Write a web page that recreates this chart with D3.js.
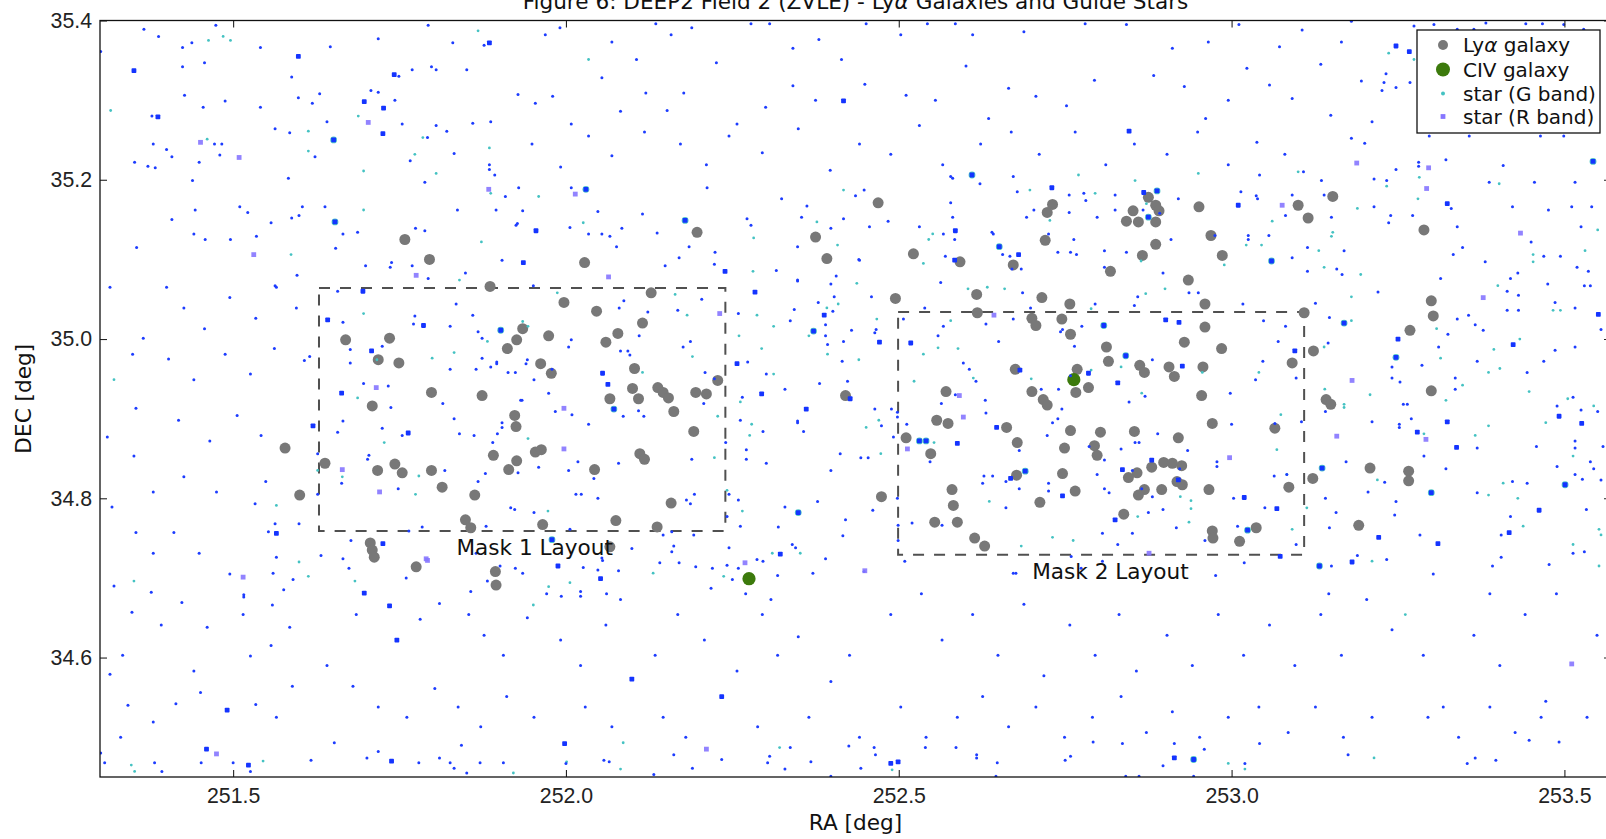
<!DOCTYPE html>
<html>
<head>
<meta charset="utf-8">
<script src="https://cdn.jsdelivr.net/npm/d3@7"></script>
<style>
  body { margin: 0; background: #fff; }
  svg { display: block; font-family: "DejaVu Sans", sans-serif; }
  .axis text { font-size: 21.3px; fill: #222; }
  .axis line { stroke: #222; stroke-width: 1.1; }
</style>
</head>
<body>
<div id="chart"></div>
<script>
// tick values
const xTicks = [251.5, 252.0, 252.5, 253.0, 253.5];
const yTicks = [34.6, 34.8, 35.0, 35.2, 35.4];

// [RA, DEC] of the Ly-alpha galaxies
const lyaGalaxies = [
  [251.578,34.863],[251.600,34.804],[251.638,34.844],[251.669,34.999],[251.735,35.001],[251.718,34.974],[251.749,34.970],[251.709,34.916],[251.798,34.933],[251.874,34.929],
  [251.717,34.835],[251.743,34.843],[251.754,34.832],[251.798,34.835],[251.814,34.814],[251.863,34.804],[251.849,34.773],[251.857,34.763],[251.965,34.767],[252.075,34.772],
  [252.137,34.764],[252.158,34.794],[251.886,35.066],[252.128,35.058],[251.997,35.046],[252.046,35.035],[252.115,35.020],[251.935,35.013],[252.078,35.007],[251.974,35.004],
  [251.926,34.999],[252.060,34.996],[251.912,34.988],[251.962,34.969],[251.978,34.957],[252.103,34.963],[252.100,34.938],[252.109,34.925],[252.066,34.925],[252.138,34.939],
  [252.146,34.933],[252.154,34.926],[252.162,34.909],[252.195,34.933],[252.211,34.931],[252.228,34.948],[252.192,34.884],[251.923,34.904],[251.925,34.890],[251.954,34.858],
  [251.963,34.861],[251.891,34.854],[251.926,34.847],[251.914,34.836],[252.043,34.836],[252.111,34.856],[252.118,34.849],[251.706,34.744],[251.709,34.735],[251.712,34.726],
  [252.066,34.739],[251.775,34.714],[251.894,34.708],[251.895,34.691],[251.758,35.125],[251.795,35.100],[252.028,35.096],[252.197,35.134],[252.375,35.128],[252.392,35.101],
  [252.420,34.929],[252.474,34.802],[252.469,35.171],[252.522,35.107],[252.592,35.097],[252.731,35.169],[252.723,35.159],[252.720,35.124],[252.672,35.093],[252.818,35.085],
  [252.866,35.105],[252.886,35.119],[252.875,35.178],[252.886,35.168],[252.891,35.161],[252.852,35.161],[252.842,35.148],[252.860,35.147],[252.886,35.147],[252.951,35.166],
  [252.969,35.130],[252.986,35.105],[252.935,35.074],[253.100,35.168],[253.115,35.152],[253.152,35.179],[253.289,35.137],[253.300,35.048],[253.303,35.029],[253.268,35.011],
  [253.123,34.985],[253.091,34.970],[253.300,34.935],[253.142,34.924],[253.149,34.918],[253.208,34.838],[253.266,34.834],[253.266,34.822],[253.122,34.825],[253.086,34.814],
  [253.191,34.766],[253.109,35.033],
  [252.495,35.051],[252.617,35.056],[252.715,35.052],[252.757,35.044],[252.618,35.033],[252.960,35.044],[252.700,35.026],[252.706,35.017],[252.745,35.025],[252.758,35.006],
  [252.960,35.015],[252.812,34.990],[252.929,34.996],[252.985,34.988],[252.815,34.972],[252.862,34.967],[252.869,34.958],[252.906,34.965],[252.914,34.953],[252.957,34.965],
  [252.675,34.962],[252.768,34.962],[252.785,34.939],[252.766,34.933],[252.700,34.934],[252.717,34.924],[252.723,34.917],[252.571,34.934],[252.955,34.929],[252.557,34.898],
  [252.574,34.894],[252.662,34.889],[252.511,34.876],[252.548,34.856],[252.678,34.870],[252.758,34.885],[252.803,34.883],[252.854,34.884],[252.971,34.894],[253.065,34.888],
  [252.920,34.876],[252.749,34.863],[252.794,34.866],[252.798,34.854],[252.880,34.839],[252.898,34.845],[252.911,34.844],[252.925,34.841],[252.858,34.832],[252.845,34.826],
  [252.746,34.831],[252.677,34.829],[252.918,34.821],[252.926,34.817],[252.869,34.811],[252.860,34.804],[252.895,34.811],[252.966,34.811],[252.765,34.809],[252.580,34.811],
  [252.582,34.791],[252.712,34.795],[252.838,34.780],[252.554,34.770],[252.588,34.770],[252.614,34.750],[252.629,34.740],[252.971,34.759],[252.972,34.750],[253.037,34.763],
  [253.012,34.746]
];

// [RA, DEC] of the CIV galaxies
const civGalaxies = [[252.763,34.949],[252.275,34.699]];

// guide stars, R band (faint)
const starsR = [
  [251.366,35.389],[251.388,35.380],[251.424,35.366],[251.438,35.372],[251.474,35.394],[251.541,35.366],[251.646,35.367],[251.718,35.377],[251.793,35.394],[251.877,35.369],
  [251.830,35.372],[251.798,35.342],[251.805,35.338],[251.769,35.338],[251.749,35.330],[251.851,35.338],[251.424,35.342],[251.457,35.347],[251.427,35.306],[251.488,35.299],
  [251.455,35.291],[251.541,35.291],[251.588,35.329],[251.598,35.303],[251.619,35.296],[251.630,35.308],[251.707,35.312],[251.718,35.310],[251.743,35.300],[251.754,35.270],
  [251.805,35.268],[251.821,35.261],[251.860,35.271],[251.887,35.273],[251.641,35.273],[251.585,35.259],[251.563,35.264],[251.623,35.229],[251.480,35.231],[251.483,35.245],
  [251.472,35.245],[251.378,35.280],[251.380,35.245],[251.400,35.238],[251.408,35.229],[251.352,35.222],[251.372,35.217],[251.383,35.215],[251.449,35.222],[251.439,35.199],
  [251.583,35.202],[251.766,35.224],[251.792,35.253],[251.832,35.233],[251.788,35.197],[251.885,35.219],[251.885,35.213],[251.893,35.206],[251.301,35.361],[251.510,35.166],
  [251.522,35.159],[251.604,35.166],[251.599,35.155],[251.588,35.152],[251.638,35.166],[251.557,35.146],[251.665,35.132],[251.687,35.134],[251.774,35.139],[251.788,35.136],
  [251.837,35.162],[251.895,35.162],[251.654,35.114],[251.535,35.129],[251.496,35.125],[251.458,35.125],[251.441,35.132],[251.408,35.150],[251.443,35.162],[251.355,35.115],
  [253.180,35.252],[253.200,35.246],[253.281,35.222],[253.281,35.217],[253.322,35.225],[253.408,35.218],[253.108,35.210],[253.135,35.199],[253.214,35.201],[253.233,35.199],
  [253.247,35.213],[253.387,35.197],[253.455,35.197],[253.516,35.197],[253.091,35.181],[253.139,35.181],[253.330,35.164],[253.214,35.166],[253.272,35.155],[253.236,35.146],
  [253.239,35.155],[253.150,35.153],[253.422,35.166],[253.476,35.162],[253.511,35.166],[253.541,35.166],[253.339,35.141],[253.450,35.122],[253.525,35.141],[253.114,35.115],
  [253.169,35.111],[253.091,35.102],[253.347,35.115],[253.333,35.106],[253.381,35.097],[253.469,35.104],[253.494,35.104],[253.519,35.090],[253.536,35.085],[253.114,35.085],
  [253.158,35.088],[253.166,35.081],[253.314,35.076],[253.419,35.076],[253.430,35.083],[253.475,35.069],[253.530,35.067],[253.539,35.067],[253.414,35.060],[253.431,35.055],
  [253.220,35.059],[253.126,35.045],[253.486,35.046],[253.516,35.039],[253.414,35.036],[253.431,35.036],[253.356,35.030],[253.339,35.025],[253.366,35.018],[253.378,35.011],
  [253.555,35.012],[253.147,35.027],[253.325,35.006],[253.311,34.990],[253.486,34.986],[253.516,34.990],[253.241,34.965],[253.286,34.967],[253.369,34.972],[253.444,34.958],
  [253.469,34.972],[253.097,34.951],[253.241,34.951],[253.253,34.946],[253.336,34.951],[253.336,34.937],[253.513,34.927],[253.258,34.918],[253.264,34.918],[253.489,34.916],
  [253.525,34.911],[253.550,34.909],[253.141,34.909],[253.270,34.900],[253.105,34.896],[253.211,34.896],[253.252,34.893],[253.252,34.889],[253.516,34.872],[253.516,34.863],
  [253.369,34.863],[253.458,34.865],[253.558,34.865],[253.289,34.853],[253.172,34.846],[253.539,34.846],[253.322,34.837],[253.489,34.840],[253.544,34.837],[253.516,34.830],
  [253.527,34.824],[253.555,34.823],[253.230,34.820],[253.422,34.821],[253.444,34.819],[253.205,34.808],[253.369,34.807],[253.141,34.800],[253.247,34.796],[253.157,34.782],
  [253.245,34.779],[253.419,34.777],[253.533,34.786],[253.147,34.763],[253.283,34.754],[253.405,34.754],[253.097,34.742],[253.513,34.731],[253.530,34.733],[253.189,34.728],
  [253.405,34.726],[253.150,34.715],[253.233,34.723],[253.392,34.715],[253.477,34.717],[253.145,34.995],
  [251.699,35.092],[251.736,35.090],[251.738,35.096],[251.769,35.092],[251.793,35.076],[251.849,35.083],[252.149,35.092],[252.223,35.094],[251.951,35.067],[251.657,35.060],
  [251.835,35.044],[251.860,35.030],[251.773,35.029],[251.771,35.019],[251.665,35.021],[251.826,35.016],[251.868,35.009],[251.874,35.001],[252.008,34.999],[252.004,34.990],
  [252.087,35.048],[252.080,35.039],[252.123,35.034],[252.168,35.036],[252.204,35.050],[252.259,35.032],[252.110,35.004],[252.176,34.990],[252.187,34.997],[252.082,34.985],
  [252.093,34.985],[252.096,34.980],[251.724,34.991],[251.676,34.987],[251.615,34.978],[251.607,34.973],[251.676,34.970],[251.826,34.962],[251.865,34.962],[251.874,34.976],
  [251.887,34.965],[251.896,34.971],[251.896,34.969],[251.913,34.958],[251.924,34.958],[251.942,34.974],[251.940,34.969],[251.979,34.962],[251.952,34.949],[251.934,34.923],
  [251.974,34.932],[252.209,34.958],[252.223,34.950],[252.273,34.971],[251.696,34.944],[251.733,34.941],[251.737,34.914],[251.815,34.919],[251.832,34.900],[251.665,34.897],
  [251.657,34.883],[251.724,34.888],[251.754,34.879],[251.840,34.881],[251.862,34.879],[251.897,34.881],[251.904,34.895],[251.904,34.889],[251.890,34.870],[251.932,34.923],
  [251.984,34.909],[252.009,34.905],[252.034,34.893],[252.086,34.903],[252.109,34.910],[252.117,34.903],[252.207,34.919],[252.240,34.870],[252.262,34.898],[252.265,34.927],
  [252.018,34.846],[252.004,34.835],[251.959,34.839],[251.928,34.832],[251.879,34.831],[251.868,34.821],[252.079,34.844],[252.189,34.849],[252.271,34.861],[252.271,34.849],
  [252.042,34.825],[251.627,34.856],[251.663,34.819],[251.704,34.854],[251.702,34.849],[251.748,34.812],[251.818,34.835],[251.627,34.805],[251.917,34.788],[251.923,34.786],
  [251.952,34.782],[252.015,34.805],[252.023,34.805],[252.048,34.800],[252.187,34.793],[252.193,34.805],[252.181,34.798],[252.245,34.805],[252.259,34.798],[252.242,34.777],
  [252.262,34.765],[252.192,34.754],[252.159,34.758],[252.146,34.754],[252.006,34.761],[251.880,34.765],[251.784,34.764],[251.764,34.759],[251.677,34.747],[251.665,34.724],
  [251.632,34.728],[251.865,34.731],[252.054,34.725],[252.099,34.737],[252.162,34.740],[252.159,34.733],[252.245,34.738],
  [252.459,35.053],[252.563,35.071],[252.686,35.058],[252.698,35.039],[252.539,35.039],[252.672,35.025],[252.631,35.019],[252.507,35.025],[252.567,35.016],[252.466,35.012],
  [252.464,35.008],[252.559,35.004],[252.650,34.997],[252.746,35.012],[252.743,35.009],[252.764,34.991],[252.775,35.016],[252.795,35.044],[252.854,35.042],[252.859,35.053],
  [252.936,35.058],[252.950,35.058],[253.017,35.044],[253.048,35.023],[253.081,35.016],[253.070,34.997],[253.036,34.949],[253.047,34.972],[252.998,34.932],[252.881,34.974],
  [252.870,34.928],[252.846,34.921],[252.758,34.954],[252.740,34.937],[252.714,34.937],[252.597,34.970],[252.606,34.962],[252.616,34.947],[252.585,34.930],[252.630,34.923],
  [252.631,34.907],[252.564,34.919],[252.464,34.912],[252.489,34.912],[252.498,34.908],[252.498,34.902],[252.474,34.891],[252.512,34.893],[252.492,34.877],[252.547,34.846],
  [252.443,34.851],[252.454,34.851],[252.731,34.895],[252.739,34.900],[252.745,34.912],[252.723,34.879],[252.681,34.860],[252.786,34.865],[252.809,34.848],[252.834,34.862],
  [252.855,34.870],[252.861,34.870],[252.889,34.881],[252.934,34.860],[252.978,34.846],[252.978,34.840],[253.000,34.893],[253.065,34.894],[253.083,34.830],[253.064,34.828],
  [252.628,34.828],[252.641,34.828],[252.626,34.819],[252.661,34.821],[252.681,34.812],[252.725,34.819],[252.725,34.809],[252.798,34.830],[252.809,34.812],[252.816,34.807],
  [252.851,34.835],[252.865,34.812],[252.881,34.802],[252.922,34.837],[253.003,34.800],[253.050,34.788],[252.461,34.785],[252.498,34.800],[252.520,34.769],[252.565,34.766],
  [252.499,34.766],[252.499,34.747],[252.661,34.788],[252.875,34.782],[252.897,34.786],[252.917,34.763],[252.851,34.756],[252.806,34.756],[252.829,34.742],[253.009,34.765],
  [252.960,34.747],[252.759,34.727],[252.509,34.721],[252.448,34.708],[252.672,34.706],[252.676,34.706],[252.774,34.712],[252.806,34.721],[253.019,34.719],[252.976,34.703],
  [252.448,35.187],[252.578,35.204],[252.581,35.202],[252.622,35.195],[252.672,35.204],[252.678,35.185],[252.756,35.181],[252.778,35.183],[252.781,35.174],[252.825,35.181],
  [252.825,35.162],[252.920,35.176],[253.014,35.185],[253.037,35.180],[253.039,35.176],[253.042,35.206],[253.081,35.155],[252.484,35.148],[252.456,35.141],[252.531,35.141],
  [252.567,35.132],[252.578,35.171],[252.581,35.153],[252.584,35.125],[252.640,35.134],[252.642,35.132],[252.692,35.153],[252.703,35.162],[252.725,35.132],[252.756,35.159],
  [252.798,35.153],[252.763,35.125],[252.739,35.109],[252.758,35.109],[252.767,35.106],[252.809,35.111],[252.842,35.109],[252.867,35.162],[252.892,35.158],[252.909,35.125],
  [252.975,35.130],[253.025,35.130],[253.025,35.125],[253.056,35.130],[252.656,35.106],[252.667,35.104],[252.684,35.088],[252.670,35.088],[252.570,35.104],[252.441,35.099],
  [252.809,35.090],[252.897,35.083],
  [252.348,35.073],[252.398,35.069],[252.403,35.053],[252.379,35.046],[252.401,35.035],[252.343,35.037],[252.337,35.023],[252.390,35.018],[252.390,35.004],[252.429,35.011],
  [252.417,34.997],[252.393,34.993],[252.415,34.972],[252.301,34.956],[252.329,34.937],[252.381,34.944],[252.423,34.947],[252.348,34.897],[252.348,34.895],[252.296,34.884],
  [252.357,34.884],[252.301,34.844],[252.412,34.856],[252.398,34.835],[252.378,34.796],[252.329,34.789],[252.420,34.773],
  [251.500,34.468],[251.526,34.457],[251.617,34.471],[251.701,34.474],[251.718,34.482],[251.779,34.468],[251.810,34.474],[251.826,34.468],[251.832,34.461],[251.851,34.455],
  [251.871,34.468],[251.906,34.468],[252.000,34.467],[252.057,34.471],[252.065,34.469],[252.132,34.453],[252.162,34.478],[252.190,34.461],[252.234,34.472],[252.303,34.468],
  [252.306,34.476],[252.329,34.460],[252.337,34.487],[251.393,34.457],[251.382,34.468],[251.307,34.468],[251.301,34.480],[251.452,34.468],[251.843,34.490],[251.652,34.493],
  [252.368,34.469],[252.425,34.489],[252.443,34.461],[252.463,34.487],[252.465,34.478],[252.540,34.487],[252.586,34.487],[252.617,34.478],[252.617,34.474],[252.648,34.468],
  [252.750,34.471],[252.758,34.476],[252.792,34.494],[252.836,34.492],[252.897,34.464],[252.914,34.492],[252.959,34.485],[253.020,34.467],[253.042,34.492],[253.175,34.478],
  [253.354,34.467],[253.366,34.474],[253.397,34.471],[253.447,34.496],[253.492,34.494],[252.841,34.451],[252.861,34.451],[252.943,34.451],[252.646,34.451],[252.398,34.451],
  [253.232,35.333],[253.229,35.322],[253.247,35.316],[253.268,35.322],[253.226,35.312],[253.274,35.393],[253.304,35.395],[253.339,35.389],[253.364,35.389],[253.382,35.397],
  [253.442,35.396],[253.467,35.396],[253.499,35.395],[253.529,35.389],[253.297,35.255],[253.357,35.255],[253.464,35.255],[253.499,35.255],
  [251.929,35.190],[252.008,35.190],[252.048,35.160],[252.115,35.157],[252.212,35.190],[252.324,35.176],[252.362,35.167],[252.435,35.180],[251.909,35.179],[251.935,35.161],
  [251.925,35.143],[251.927,35.145],[252.006,35.140],[252.034,35.132],[252.054,35.132],[252.066,35.129],[252.084,35.139],[252.137,35.133],[252.076,35.116],[252.185,35.116],
  [252.224,35.109],[252.170,35.102],[252.316,35.086],[252.272,35.151],[252.278,35.143],[252.354,35.153],[252.398,35.139],[252.417,35.151],[252.348,35.116],[252.440,35.100],
  [252.406,35.079],[252.348,35.074],[251.904,35.099],[251.596,35.080],[251.563,35.067],
  [252.319,34.764],[252.416,34.753],[252.340,34.742],[252.345,34.738],[252.390,34.724],[252.371,34.706],[252.318,34.703],[252.308,34.673],[252.270,34.680],[252.287,34.723],
  [252.296,34.721],[252.259,34.712],[252.250,34.698],[252.242,34.716],[252.220,34.712],[252.218,34.687],[252.195,34.714],[252.170,34.719],[252.141,34.719],[252.079,34.709],
  [252.048,34.710],[252.055,34.722],[252.026,34.713],[252.022,34.683],[252.022,34.677],[251.993,34.677],[251.971,34.680],[252.061,34.680],[252.082,34.673],[251.935,34.706],
  [251.924,34.712],[251.901,34.715],[251.882,34.696],[251.857,34.683],[251.810,34.668],[251.760,34.700],[251.674,34.712],[251.590,34.698],[251.576,34.685],[251.560,34.706],
  [251.565,34.726],[251.553,34.758],[251.563,34.768],[251.599,34.768],[251.516,34.679],[251.516,34.676],[251.559,34.666],[251.533,34.793],
  [251.969,35.382],[251.991,35.391],[252.069,35.373],[252.106,35.351],[252.135,35.396],[252.158,35.382],[252.189,35.391],[252.278,35.396],[252.306,35.396],[252.341,35.365],
  [252.380,35.376],[252.414,35.351],[252.451,35.396],[252.503,35.382],[252.543,35.396],[252.585,35.396],[252.611,35.382],[252.688,35.386],[252.780,35.396],[252.842,35.395],
  [252.911,35.365],[252.965,35.373],[253.011,35.395],[251.928,35.307],[251.954,35.296],[251.980,35.305],[252.008,35.270],[252.054,35.328],[252.082,35.286],[252.120,35.309],
  [252.152,35.287],[252.177,35.309],[252.226,35.347],[252.257,35.270],[252.300,35.291],[252.341,35.318],[252.375,35.300],[252.449,35.320],[252.511,35.306],[252.555,35.300],
  [252.601,35.343],[252.635,35.277],[252.665,35.315],[252.706,35.305],[252.752,35.293],[252.794,35.325],[252.883,35.331],[252.929,35.317],[252.961,35.277],[252.995,35.300],
  [253.023,35.340],[253.057,35.319],[251.949,35.245],[251.992,35.216],[252.034,35.255],[252.069,35.230],[252.118,35.260],[252.172,35.245],[252.211,35.219],[252.245,35.255],
  [252.295,35.234],[252.349,35.264],[252.397,35.212],[252.441,35.245],[252.488,35.232],[252.531,35.268],[252.566,35.219],[252.623,35.245],[252.669,35.260],[252.711,35.232],
  [252.765,35.260],[252.811,35.219],[252.854,35.245],[252.903,35.232],[252.949,35.260],[252.995,35.219],[253.038,35.247],[253.080,35.232],
  [253.072,35.367],[253.106,35.388],[253.134,35.345],[253.165,35.373],[253.195,35.324],[253.091,35.302],[253.149,35.281],[253.211,35.273],[253.180,35.399],
  [251.315,35.065],[251.349,34.981],[251.365,35.001],[251.354,34.913],[251.311,34.877],[251.351,34.853],[251.380,34.808],[251.318,34.789],[251.354,34.757],[251.380,34.731],
  [251.400,35.065],[251.426,35.039],[251.457,35.013],[251.495,35.052],[251.534,35.026],[251.565,35.065],[251.403,34.975],[251.441,34.949],[251.488,34.981],[251.526,34.956],
  [251.562,34.988],[251.418,34.898],[251.465,34.872],[251.506,34.904],[251.542,34.879],[251.426,34.827],[251.475,34.808],[251.549,34.821],[251.411,34.757],[251.449,34.731],
  [251.495,34.705],[251.595,35.039],
  [251.321,34.690],[251.348,34.657],[251.377,34.682],[251.392,34.641],[251.423,34.669],[251.461,34.638],[251.515,34.654],[251.526,34.602],[251.557,34.615],[251.585,34.638],
  [251.334,34.603],[251.315,34.579],[251.342,34.540],[251.380,34.519],[251.414,34.542],[251.441,34.583],[251.451,34.556],[251.534,34.541],[251.565,34.525],[251.589,34.564],
  [251.331,34.500],
  [251.685,34.654],[251.781,34.648],[251.854,34.654],[251.877,34.628],[251.906,34.603],[251.942,34.650],[251.992,34.622],[252.022,34.590],[252.060,34.641],[252.134,34.603],
  [252.168,34.654],[252.208,34.622],[252.257,34.583],[252.295,34.654],[252.318,34.603],[252.349,34.626],[252.398,34.570],[252.426,34.603],[251.641,34.590],[251.680,34.564],
  [251.718,34.538],[251.761,34.525],[251.803,34.561],[251.838,34.538],[251.872,34.513],[251.911,34.551],[251.952,34.525],[252.029,34.538],[252.069,34.513],[252.146,34.525],
  [252.180,34.500],[252.288,34.513],[252.365,34.525],[252.441,34.500],
  [252.488,34.654],[252.534,34.680],[252.565,34.622],[252.611,34.654],[252.649,34.603],[252.688,34.667],[252.718,34.577],[252.757,34.641],[252.795,34.603],[252.831,34.654],
  [252.857,34.583],[252.903,34.628],[252.941,34.590],[252.980,34.654],[253.018,34.603],[253.057,34.641],[253.095,34.590],[253.134,34.654],[253.165,34.603],[253.203,34.673],
  [253.241,34.635],[253.288,34.603],[253.318,34.538],[253.364,34.628],[253.403,34.590],[253.441,34.654],[253.472,34.545],[253.534,34.525],[252.503,34.538],[252.541,34.500],
  [252.588,34.525],[252.626,34.551],[252.665,34.513],[252.706,34.538],[252.749,34.500],[252.791,34.525],[252.834,34.551],[252.872,34.506],[252.911,34.532],[252.952,34.500],
  [252.995,34.525],[253.041,34.538],[253.085,34.506],[253.126,34.538],[253.168,34.500],[253.211,34.525],[253.295,34.525],[253.341,34.500],[253.388,34.538],[253.426,34.506],
  [253.465,34.525],[253.549,34.628],[253.488,34.680],[253.388,34.680],[253.303,34.705],[253.146,34.680]
];

// guide stars, R band (bright)
const starsRBright = [
  [251.598,35.355],[251.885,35.372],[251.742,35.332],[251.351,35.337],[251.697,35.298],[251.726,35.290],[251.725,35.258],[251.387,35.279],
  [253.324,35.170],[253.095,34.985],[253.423,34.993],[253.250,35.000],[253.551,35.031],[253.324,34.896],[253.492,34.903],[253.526,34.894],[253.279,34.883],[253.338,34.864],
  [253.462,34.785],[253.221,34.751],[253.417,34.757],[253.310,34.743],[253.181,34.720],
  [251.936,35.096],[252.239,35.085],[251.695,35.060],[251.786,35.017],[251.642,35.024],[251.708,34.985],[252.055,34.957],[252.063,34.943],[252.257,34.969],[251.663,34.932],
  [251.620,34.891],[251.763,34.882],[251.725,34.743],
  [252.518,34.995],[252.471,34.996],[252.926,34.966],[252.921,35.021],[252.901,35.024],[252.829,34.945],[252.785,34.957],[252.682,34.961],[252.647,34.889],[252.588,34.869],
  [252.880,34.848],[252.668,34.825],[252.746,34.803],[252.836,34.836],[252.920,34.823],[253.019,34.801],[253.068,34.787],[252.825,34.773],[253.073,34.727],
  [252.730,35.190],[252.868,35.184],[253.010,35.168],[252.585,35.136],[252.680,35.106],[252.584,35.099],
  [252.284,35.059],[252.388,35.030],[252.294,34.931],[252.427,34.925],[252.361,34.912],
  [251.460,34.485],[251.523,34.465],[251.738,34.470],[251.998,34.492],[252.488,34.467],[252.499,34.469],[252.914,34.474],
  [253.247,35.368],[253.267,35.361],[251.955,35.136],
  [252.322,34.730],[252.052,34.699],[251.988,34.715],[251.735,34.665],[251.697,34.681],[251.565,34.756],
  [252.417,35.299],[252.846,35.261],[251.491,34.534],[251.746,34.622],[252.099,34.573],[252.234,34.551]
];

// bright stars seen in both bands
const starsBoth = [
  [251.651,35.250],[251.653,35.147],
  [253.543,35.223],[253.169,35.020],[253.247,34.977],[253.136,34.838],[253.501,34.817],[253.300,34.807],[253.132,34.715],
  [251.902,35.011],[252.072,34.912],[251.979,34.748],
  [252.808,35.017],[252.841,34.979],[252.531,34.872],[252.541,34.872],[252.690,34.834],[253.024,34.760],
  [252.610,35.206],[252.888,35.186],[252.875,35.153],[253.060,35.098],[252.651,35.116],
  [252.372,35.010],[252.349,34.782],[252.943,34.472],[252.030,35.188],[252.179,35.149]
];

// guide stars, G band
const starsG = [
  [251.485,35.380],[251.463,35.375],[251.496,35.375],[251.868,35.387],[251.688,35.280],[251.613,35.261],[251.613,35.236],[251.461,35.251],[251.696,35.211],[251.773,35.232],
  [251.785,35.253],[251.805,35.208],[251.885,35.240],[251.887,35.183],[251.316,35.287],[251.696,35.162],[251.873,35.122],
  [253.100,35.210],[253.233,35.192],[253.282,35.203],[253.402,35.195],[253.280,35.176],[253.189,35.164],[253.152,35.134],[253.150,35.129],[253.550,35.137],[253.131,35.111],
  [253.453,35.106],[253.453,35.097],[253.531,35.111],[253.139,35.090],[253.194,35.081],[253.400,35.067],[253.180,35.053],[253.483,35.036],[253.494,35.036],[253.180,35.023],
  [253.308,35.013],[253.139,34.990],[253.394,34.987],[253.433,35.000],[253.314,34.976],[253.403,34.963],[253.386,34.958],[253.347,34.942],[253.208,34.930],[253.140,34.937],
  [253.447,34.934],[253.505,34.925],[253.169,34.918],[253.169,34.914],[253.322,34.923],[253.544,34.916],[253.472,34.895],[253.386,34.891],[253.289,34.881],[253.366,34.879],
  [253.513,34.853],[253.219,34.823],[253.408,34.819],[253.386,34.804],[253.430,34.800],[253.113,34.788],[253.091,34.761],[253.438,34.765],[253.552,34.761],[253.555,34.754],
  [253.513,34.742],[253.211,34.721],[253.552,34.715],
  [251.840,35.074],[251.987,35.058],[251.696,35.032],[251.882,34.997],[251.935,35.022],[251.943,35.016],[252.182,35.030],[252.164,35.056],[252.190,34.978],[251.716,34.974],
  [251.799,34.976],[251.832,34.983],[252.115,34.958],[252.260,35.004],[251.687,34.926],[251.727,34.870],[251.943,34.875],[252.228,34.903],[252.262,34.921],[252.223,34.851],
  [251.627,34.835],[251.664,34.827],[251.779,34.828],[251.774,34.805],[251.973,34.784],[252.242,34.810],[252.265,34.784],
  [252.604,35.063],[252.633,35.065],[252.659,35.063],[252.578,35.023],[252.467,35.025],[252.537,34.981],[252.559,34.989],[252.589,34.988],[252.789,35.038],[252.871,35.057],
  [252.900,35.063],[253.041,34.958],[252.956,34.958],[252.834,34.965],[252.865,34.932],[252.789,34.961],[252.699,34.950],[252.612,34.951],[252.523,34.947],[252.470,34.898],
  [252.451,34.889],[252.553,34.870],[252.473,34.856],[253.068,34.861],[253.083,34.830],[252.923,34.802],[252.939,34.797],[252.939,34.787],[253.074,34.905],[252.636,34.796],
  [252.859,34.777],[252.936,34.770],[252.731,34.751],[252.762,34.747],[252.684,34.740],
  [252.697,35.187],[252.770,35.206],[252.795,35.183],[252.855,35.199],[252.872,35.170],[252.950,35.208],[253.061,35.148],[252.551,35.132],[252.545,35.125],[252.727,35.149],
  [253.022,35.118],[253.045,35.118],[252.537,35.095],[252.864,35.098],[252.989,35.093],
  [252.437,35.070],[252.392,35.039],[252.409,35.044],[252.287,35.030],[252.312,35.016],[252.365,35.004],[252.294,34.988],[252.393,34.981],[252.440,34.974],[252.312,34.956],
  [252.279,34.893],[252.276,34.879],
  [251.545,34.470],[251.921,34.455],[252.001,34.469],[252.082,34.460],[252.321,34.487],[251.347,34.465],[251.352,34.457],[252.086,34.493],
  [252.490,34.459],[252.995,34.467],[253.020,34.460],[253.214,34.474],[253.274,35.351],[253.236,35.359],
  [251.959,35.179],[252.026,35.146],[252.281,35.085],[252.282,35.127],[252.377,35.147],[252.408,35.118],[252.417,35.187],[251.587,35.106],
  [252.352,34.731],[252.237,34.702],[252.131,34.706],[252.310,34.731],[252.006,34.694],[251.974,34.689],[251.951,34.666],[251.683,34.696],[251.599,34.720],[251.613,34.702],
  [251.565,34.791],[252.034,35.351],[251.321,34.949],[251.351,34.696],[253.261,34.654]
];

// R band stars drawn with the cross marker
const starsRX = [
  [251.703,35.272],[251.509,35.228],[251.451,35.247],[251.884,35.188],
  [253.188,35.221],[253.296,35.215],[253.293,35.189],[253.434,35.133],[253.378,35.052],[253.181,34.948],[253.158,34.878],[253.292,34.874],
  [251.775,35.080],[252.064,35.078],[252.231,35.032],[251.715,34.939],[251.997,34.913],[251.997,34.862],[251.664,34.836],[251.720,34.808],[251.790,34.724],
  [252.643,35.030],[252.591,34.929],[252.513,34.862],[252.597,34.902],[252.997,34.851],[252.876,34.731],[253.076,35.168],
  [251.475,34.479],[252.211,34.485],[252.014,35.182],[251.531,35.106],[252.449,34.709],[252.269,34.719],[251.792,34.722],[251.515,34.701],[253.511,34.592]
];

// slit-mask footprints
const masks = [
  { name: 'Mask 1 Layout', ra: [251.629, 252.2395], dec: [34.759, 35.064], labelRa: 251.953, labelDec: 34.7285 },
  { name: 'Mask 2 Layout', ra: [252.499, 253.109], dec: [34.729, 35.034], labelRa: 252.818, labelDec: 34.699 }
];

const legendItems = ['galaxy', 'CIV galaxy', 'star (G band)', 'star (R band)'];

const width = 1606, height = 839;
const plot = { left: 100, right: 1611, top: 20.5, bottom: 777 };

const svg = d3.select('#chart').append('svg')
    .attr('width', width)
    .attr('height', height);

const x = d3.scaleLinear().domain([251.3, 253.57]).range([plot.left, plot.right]);
const y = d3.scaleLinear().domain([34.45, 35.4]).range([plot.bottom, plot.top]);

svg.append('clipPath').attr('id', 'clip')
  .append('rect')
    .attr('x', plot.left).attr('y', plot.top)
    .attr('width', plot.right - plot.left).attr('height', plot.bottom - plot.top);

const g = svg.append('g').attr('clip-path', 'url(#clip)');

// mask outlines
g.selectAll('.mask')
    .data(masks)
  .enter().append('rect')
    .attr('class', 'mask')
    .attr('x', d => x(d.ra[0]))
    .attr('y', d => y(d.dec[1]))
    .attr('width', d => x(d.ra[1]) - x(d.ra[0]))
    .attr('height', d => y(d.dec[0]) - y(d.dec[1]))
    .attr('fill', 'none')
    .attr('stroke', '#505050')
    .attr('stroke-width', 2)
    .attr('stroke-dasharray', '11 10');

// galaxies
g.append('g').selectAll('circle')
    .data(lyaGalaxies)
  .enter().append('circle')
    .attr('cx', d => x(d[0]))
    .attr('cy', d => y(d[1]))
    .attr('r', 5.5)
    .attr('fill', '#787878');

g.append('g').selectAll('circle')
    .data(civGalaxies)
  .enter().append('circle')
    .attr('cx', d => x(d[0]))
    .attr('cy', d => y(d[1]))
    .attr('r', 6.6)
    .attr('fill', '#3c7a0c');

// G band stars
g.append('g').selectAll('circle')
    .data(starsG)
  .enter().append('circle')
    .attr('cx', d => x(d[0]))
    .attr('cy', d => y(d[1]))
    .attr('r', 1.4)
    .attr('fill', '#44c2c2');

g.append('g').selectAll('circle')
    .data(starsBoth)
  .enter().append('circle')
    .attr('cx', d => x(d[0]))
    .attr('cy', d => y(d[1]))
    .attr('r', 3.4)
    .attr('fill', '#50c6c6');

// R band stars
g.append('g').selectAll('circle')
    .data(starsR)
  .enter().append('circle')
    .attr('cx', d => x(d[0]))
    .attr('cy', d => y(d[1]))
    .attr('r', 1.5)
    .attr('fill', '#1c3cff');

g.append('g').selectAll('rect')
    .data(starsRBright.concat(starsBoth))
  .enter().append('rect')
    .attr('x', d => x(d[0]) - 2.4)
    .attr('y', d => y(d[1]) - 2.4)
    .attr('width', 4.8)
    .attr('height', 4.8)
    .attr('rx', 0.8)
    .attr('fill', '#1434ff');

g.append('g').selectAll('rect')
    .data(starsRX)
  .enter().append('rect')
    .attr('x', d => x(d[0]) - 2.4)
    .attr('y', d => y(d[1]) - 2.4)
    .attr('width', 4.8)
    .attr('height', 4.8)
    .attr('fill', '#8676ff')
    .attr('opacity', 0.9);

// axes, ticks pointing inwards on all four sides
const fmt = d3.format('.1f');
svg.append('g').attr('class', 'axis')
    .attr('transform', 'translate(0,' + plot.bottom + ')')
    .call(d3.axisBottom(x).tickValues(xTicks).tickFormat(fmt).tickSize(-7).tickSizeOuter(0).tickPadding(11))
    .call(a => a.select('.domain').remove());

svg.append('g').attr('class', 'axis')
    .attr('transform', 'translate(0,' + plot.top + ')')
    .call(d3.axisTop(x).tickValues(xTicks).tickFormat('').tickSize(-7).tickSizeOuter(0))
    .call(a => a.select('.domain').remove());

svg.append('g').attr('class', 'axis')
    .attr('transform', 'translate(' + plot.left + ',0)')
    .call(d3.axisLeft(y).tickValues(yTicks).tickFormat(fmt).tickSize(-7).tickSizeOuter(0).tickPadding(8))
    .call(a => a.select('.domain').remove());

svg.append('g').attr('class', 'axis')
    .attr('transform', 'translate(' + plot.right + ',0)')
    .call(d3.axisRight(y).tickValues(yTicks).tickFormat('').tickSize(-7).tickSizeOuter(0))
    .call(a => a.select('.domain').remove());

svg.append('rect')
    .attr('x', plot.left).attr('y', plot.top)
    .attr('width', plot.right - plot.left).attr('height', plot.bottom - plot.top)
    .attr('fill', 'none')
    .attr('stroke', '#111')
    .attr('stroke-width', 1.3);

// mask labels
svg.selectAll('.mask-label')
    .data(masks)
  .enter().append('text')
    .attr('class', 'mask-label')
    .attr('x', d => x(d.labelRa))
    .attr('y', d => y(d.labelDec))
    .attr('text-anchor', 'middle')
    .style('font-size', '21.6px')
    .attr('fill', '#111')
    .text(d => d.name);

// title (sits right at the top edge, as in the original figure) and axis labels
const title = svg.append('text')
    .attr('x', (plot.left + plot.right) / 2)
    .attr('y', 9)
    .attr('text-anchor', 'middle')
    .style('font-size', '21.6px')
    .attr('fill', '#111');
title.append('tspan').text('Figure 6: DEEP2 Field 2 (ZVLE) - Ly');
title.append('tspan').style('font-style', 'italic').text('\u03b1');
title.append('tspan').text(' Galaxies and Guide Stars');

svg.append('text')
    .attr('x', (plot.left + plot.right) / 2)
    .attr('y', 830)
    .attr('text-anchor', 'middle')
    .style('font-size', '21.6px')
    .attr('fill', '#111')
    .text('RA [deg]');

svg.append('text')
    .attr('transform', 'translate(31,' + ((plot.top + plot.bottom) / 2) + ') rotate(-90)')
    .attr('text-anchor', 'middle')
    .style('font-size', '21.6px')
    .attr('fill', '#111')
    .text('DEC [deg]');

// legend
const legend = svg.append('g').attr('transform', 'translate(1417,30)');
legend.append('rect')
    .attr('width', 183).attr('height', 103)
    .attr('fill', '#fff')
    .attr('stroke', '#111')
    .attr('stroke-width', 1.3);

const rows = [15, 39.5, 63.5, 86.5];
legend.append('circle').attr('cx', 26).attr('cy', rows[0]).attr('r', 5).attr('fill', '#787878');
legend.append('circle').attr('cx', 26).attr('cy', rows[1]).attr('r', 7).attr('fill', '#3c7a0c');
legend.append('circle').attr('cx', 26).attr('cy', rows[2]).attr('r', 2).attr('fill', '#44c2c2');
legend.append('rect').attr('x', 23.6).attr('y', rows[3] - 2.4).attr('width', 4.8).attr('height', 4.8)
    .attr('fill', '#8676ff');

legend.selectAll('.lab')
    .data(legendItems)
  .enter().append('text')
    .attr('class', 'lab')
    .attr('x', 46)
    .attr('y', (d, i) => rows[i] + 7)
    .style('font-size', '20px')
    .attr('fill', '#111')
    .each(function (d, i) {
        const t = d3.select(this);
        if (i === 0) {
            t.append('tspan').text('Ly');
            t.append('tspan').style('font-style', 'italic').text('\u03b1');
            t.append('tspan').text(' ' + d);
        } else {
            t.text(d);
        }
    });
</script>
</body>
</html>
